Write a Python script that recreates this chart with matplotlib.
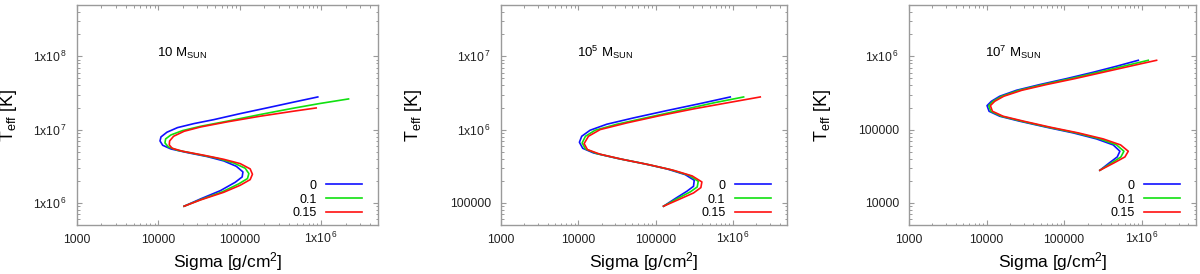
import numpy as np
import matplotlib
matplotlib.use('Agg')
import matplotlib.pyplot as plt
from matplotlib.ticker import LogLocator, FuncFormatter, NullFormatter

plt.rcParams['font.family'] = ['Liberation Sans', 'DejaVu Sans']
plt.rcParams['mathtext.fontset'] = 'custom'
plt.rcParams['mathtext.rm'] = 'Liberation Sans'
plt.rcParams['mathtext.it'] = 'Liberation Sans:italic'
plt.rcParams['mathtext.bf'] = 'Liberation Sans:bold'

# Data (log10 values)
series_labels = ['0', '0.1', '0.15']
mass_labels = [r'10 M$_{\mathrm{SUN}}$', r'10$^5$ M$_{\mathrm{SUN}}$', r'10$^7$ M$_{\mathrm{SUN}}$']
ylims = [(5e5, 5e8), (5e4, 5e7), (5e3, 5e6)]
xlim = (1e3, 5e6)

# 10 Msun
p1_lsig = [
    [5.959, 5.655, 5.331, 5.006, 4.682, 4.438, 4.235, 4.105, 4.032, 4.020, 4.053, 4.154, 4.357, 4.600, 4.803, 4.957, 5.039, 5.030, 4.945, 4.763, 4.519, 4.316],
    [6.337, 5.980, 5.655, 5.249, 4.844, 4.519, 4.296, 4.154, 4.089, 4.081, 4.122, 4.235, 4.479, 4.722, 4.925, 5.067, 5.112, 5.095, 4.986, 4.783, 4.519, 4.316],
    [5.939, 5.655, 5.249, 4.844, 4.519, 4.316, 4.187, 4.138, 4.134, 4.170, 4.296, 4.560, 4.803, 5.006, 5.128, 5.156, 5.128, 5.006, 4.803, 4.519, 4.316],
]
p1_lteff = [
    [7.445, 7.373, 7.295, 7.218, 7.136, 7.082, 7.027, 6.964, 6.900, 6.845, 6.786, 6.736, 6.686, 6.632, 6.573, 6.500, 6.423, 6.355, 6.282, 6.168, 6.055, 5.955],
    [7.418, 7.355, 7.291, 7.205, 7.114, 7.045, 6.986, 6.927, 6.873, 6.818, 6.764, 6.718, 6.664, 6.609, 6.545, 6.473, 6.400, 6.332, 6.259, 6.150, 6.045, 5.955],
    [7.295, 7.250, 7.182, 7.105, 7.036, 6.977, 6.909, 6.845, 6.791, 6.745, 6.705, 6.650, 6.595, 6.536, 6.464, 6.391, 6.318, 6.241, 6.145, 6.041, 5.955],
]
# 1e5 Msun
p2_lsig = [
    [5.965, 5.577, 5.145, 4.713, 4.368, 4.152, 4.044, 4.014, 4.057, 4.196, 4.498, 4.843, 5.145, 5.382, 5.499, 5.490, 5.404, 5.253, 5.102],
    [6.138, 5.749, 5.361, 4.929, 4.498, 4.217, 4.092, 4.049, 4.092, 4.239, 4.541, 4.886, 5.188, 5.430, 5.551, 5.538, 5.447, 5.274, 5.102],
    [6.353, 5.922, 5.490, 5.059, 4.627, 4.282, 4.131, 4.075, 4.118, 4.282, 4.584, 4.929, 5.231, 5.473, 5.598, 5.585, 5.490, 5.296, 5.102],
]
p2_lteff = [
    [6.445, 6.355, 6.259, 6.159, 6.073, 5.991, 5.909, 5.827, 5.745, 5.682, 5.609, 5.536, 5.464, 5.386, 5.309, 5.227, 5.159, 5.059, 4.955],
    [6.445, 6.364, 6.273, 6.173, 6.073, 5.991, 5.909, 5.818, 5.736, 5.673, 5.600, 5.527, 5.455, 5.377, 5.295, 5.218, 5.150, 5.055, 4.955],
    [6.445, 6.364, 6.282, 6.191, 6.091, 6.000, 5.909, 5.809, 5.727, 5.664, 5.591, 5.518, 5.445, 5.368, 5.286, 5.209, 5.136, 5.045, 4.955],
]
# 1e7 Msun
p3_lsig = [
    [5.955, 5.675, 5.374, 5.030, 4.686, 4.385, 4.170, 4.062, 4.006, 4.032, 4.170, 4.428, 4.772, 5.116, 5.417, 5.632, 5.718, 5.684, 5.581, 5.460],
    [6.084, 5.761, 5.439, 5.082, 4.729, 4.419, 4.196, 4.084, 4.028, 4.054, 4.191, 4.454, 4.798, 5.151, 5.460, 5.675, 5.770, 5.731, 5.611, 5.460],
    [6.191, 5.847, 5.503, 5.138, 4.772, 4.454, 4.222, 4.105, 4.049, 4.075, 4.213, 4.480, 4.824, 5.181, 5.503, 5.727, 5.826, 5.783, 5.641, 5.460],
]
p3_lteff = [
    [5.945, 5.864, 5.782, 5.695, 5.614, 5.536, 5.455, 5.386, 5.327, 5.250, 5.182, 5.114, 5.032, 4.955, 4.873, 4.791, 4.705, 4.627, 4.545, 4.445],
    [5.945, 5.864, 5.782, 5.695, 5.614, 5.536, 5.455, 5.386, 5.327, 5.250, 5.182, 5.114, 5.032, 4.955, 4.873, 4.791, 4.705, 4.627, 4.545, 4.445],
    [5.945, 5.864, 5.782, 5.695, 5.614, 5.536, 5.455, 5.386, 5.327, 5.250, 5.182, 5.114, 5.032, 4.955, 4.873, 4.791, 4.705, 4.627, 4.545, 4.445],
]

COLORS = ['#1010ff', '#10e010', '#ff1010']
FRAME = '#9a9a9a'
# axes boxes in pixels (left, right) ; top 5, bottom 225 on a 1200x274 canvas
BOXES = [(77, 378), (501, 787), (909, 1196)]
YLAB_X = [19, 424, 833]

def fmt(v, pos):
    e = int(round(np.log10(v)))
    if e >= 6:
        return r'1x10$^{\,%d}$' % e
    return '%d' % int(round(v))

fig = plt.figure(figsize=(12, 2.74), dpi=100, facecolor='w')
panels = [(p1_lsig, p1_lteff), (p2_lsig, p2_lteff), (p3_lsig, p3_lteff)]
axes = []
for k, (lsig, lteff) in enumerate(panels):
    x0, x1 = BOXES[k]
    ax = fig.add_axes([x0/1200., (274-225)/274., (x1-x0)/1200., 220/274.])
    for i in range(3):
        ax.plot(10**np.array(lsig[i]), 10**np.array(lteff[i]), color=COLORS[i], lw=1.2, label=series_labels[i])
    ax.set_xscale('log')
    ax.set_yscale('log')
    ax.set_xlim(*xlim)
    ax.set_ylim(*ylims[k])
    for a in (ax.xaxis, ax.yaxis):
        a.set_major_locator(LogLocator(base=10, numticks=20))
        a.set_minor_locator(LogLocator(base=10, subs=np.arange(2, 10), numticks=20))
        a.set_major_formatter(FuncFormatter(fmt))
        a.set_minor_formatter(NullFormatter())
    ax.tick_params(which='both', direction='in', top=True, right=True, color=FRAME, labelsize=8.8, labelcolor='#222222')
    ax.tick_params(which='major', length=3.5, width=0.8)
    ax.tick_params(which='minor', length=1.8, width=0.7)
    ax.tick_params(axis='x', pad=13)
    ax.tick_params(axis='y', pad=7)
    for s in ax.spines.values():
        s.set_color(FRAME)
        s.set_linewidth(1.0)
    ax.set_xlabel(r'Sigma [g/cm$^2$]', fontsize=12.5)
    ax.xaxis.set_label_coords(0.5, -25/220.)
    ax.set_ylabel(r'T$_{\mathrm{eff}}$ [K]', fontsize=13)
    ax.yaxis.set_label_coords((YLAB_X[k]-x0)/float(x1-x0), 0.5)
    ax.text(9500, ylims[k][1]/5.*0.97, mass_labels[k], fontsize=9.5, ha='left', va='baseline')
    ax.legend(loc='lower right', bbox_to_anchor=(1-16./(x1-x0), 0.025), frameon=False, markerfirst=False,
              fontsize=9, handlelength=2.9, handletextpad=0.75, labelspacing=0.15, borderpad=0, borderaxespad=0)
    axes.append(ax)

fig.canvas.draw()
for ax in axes:
    for t in ax.xaxis.get_major_ticks():
        t.label1.set_verticalalignment('baseline')

plt.savefig('out.png', dpi=100, facecolor='w')
